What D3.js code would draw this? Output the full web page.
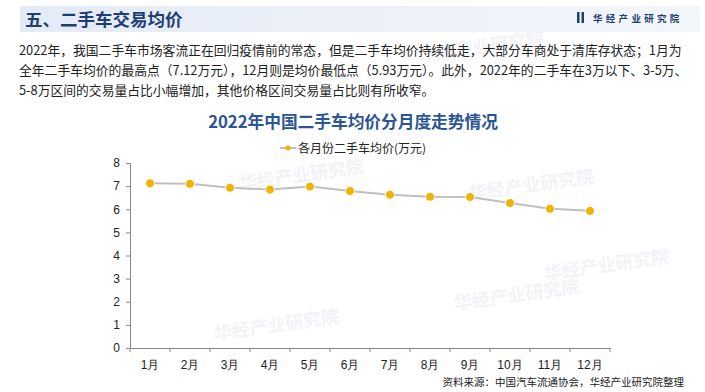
<!DOCTYPE html>
<html>
<head>
<meta charset="utf-8">
<script src="https://cdn.jsdelivr.net/npm/d3@7"></script>
<style>
  body { margin: 0; background: #fff; }
  svg { display: block; font-family: "Noto Sans CJK SC", "Noto Sans", sans-serif; }
</style>
</head>
<body>
<svg width="705" height="392"></svg>
<script>
let months = ["1月", "2月", "3月", "4月", "5月", "6月", "7月", "8月", "9月", "10月", "11月", "12月"];
let prices = [7.12, 7.1, 6.93, 6.85, 6.98, 6.79, 6.63, 6.54, 6.53, 6.27, 6.02, 5.93];
let yTicks = [0, 1, 2, 3, 4, 5, 6, 7, 8];
let paragraph = [
    "2022年，我国二手车市场客流正在回归疫情前的常态，但是二手车均价持续低走，大部分车商处于清库存状态；1月为",
    "全年二手车均价的最高点（7.12万元），12月则是均价最低点（5.93万元）。此外，2022年的二手车在3万以下、3-5万、",
    "5-8万区间的交易量占比小幅增加，其他价格区间交易量占比则有所收窄。"
];

let svg = d3.select("svg");

// faint watermarks
let wm = [[420, 62], [240, 190], [470, 200], [545, 280], [215, 340], [455, 310]];
svg.append("g").selectAll("text")
    .data(wm)
    .enter()
    .append("text")
    .attr("transform", (d) => `translate(${d[0]},${d[1]}) rotate(-8)`)
    .attr("font-size", 18).attr("font-weight", "bold").attr("fill", "#f1f3f7")
    .text("华经产业研究院");

// header band
let grad = svg.append("defs").append("linearGradient").attr("id", "hdr");
grad.append("stop").attr("offset", "0%").attr("stop-color", "#e4ebf6");
grad.append("stop").attr("offset", "100%").attr("stop-color", "#f3f6fb");
svg.append("rect").attr("x", 20).attr("y", 6).attr("width", 680).attr("height", 26).attr("fill", "url(#hdr)");
svg.append("text").attr("x", 25).attr("y", 25.5)
    .attr("font-size", 17.5).attr("font-weight", "bold").attr("fill", "#1f3f73")
    .text("五、二手车交易均价");

// logo
svg.append("rect").attr("x", 577).attr("y", 12).attr("width", 2.5).attr("height", 11).attr("fill", "#1f3f73");
svg.append("rect").attr("x", 581.5).attr("y", 12).attr("width", 2.5).attr("height", 11).attr("fill", "#1f3f73");
svg.append("text").attr("x", 593).attr("y", 21.5)
    .attr("font-size", 9.5).attr("font-weight", "bold").attr("fill", "#1f3f73")
    .attr("letter-spacing", 3.3)
    .text("华经产业研究院");

// paragraph
svg.append("g").selectAll("text")
    .data(paragraph)
    .enter()
    .append("text")
    .attr("x", 19)
    .attr("y", (d, i) => 55 + i * 20)
    .attr("font-size", 12.8)
    .attr("fill", "#222")
    .text((d) => d);

// chart title
svg.append("text").attr("x", 353).attr("y", 128).attr("text-anchor", "middle")
    .attr("font-size", 16.7).attr("font-weight", "bold").attr("fill", "#2a5596")
    .text("2022年中国二手车均价分月度走势情况");

// legend
let lg = svg.append("g");
lg.append("line").attr("x1", 280).attr("x2", 296).attr("y1", 148).attr("y2", 148)
    .attr("stroke", "#bfbfbf").attr("stroke-width", 2);
lg.append("circle").attr("cx", 288).attr("cy", 148).attr("r", 2.5).attr("fill", "#f0b400");
lg.append("text").attr("x", 298).attr("y", 152.5).attr("font-size", 12).attr("fill", "#222")
    .text("各月份二手车均价(万元)");

// scales
let x = d3.scaleBand().domain(months).range([130, 610]);
let y = d3.scaleLinear().domain([0, 8]).range([348, 163]);

// y axis
let yAxis = svg.append("g")
    .attr("transform", "translate(130,0)")
    .call(d3.axisLeft(y).tickValues(yTicks).tickSize(4).tickPadding(6));
yAxis.select(".domain").attr("stroke", "#888");
yAxis.selectAll(".tick line").attr("stroke", "#888");
yAxis.selectAll("text").attr("font-size", 12).attr("fill", "#222")
    .attr("font-family", "Liberation Sans, Arial, sans-serif");

// x axis with ticks at band edges
let xAxis = svg.append("g")
    .attr("transform", "translate(0,348)")
    .call(d3.axisBottom(x).tickSize(0).tickPadding(12));
xAxis.select(".domain").attr("stroke", "#888");
xAxis.selectAll("text").attr("font-size", 12).attr("fill", "#222");
xAxis.selectAll(".edge")
    .data(months.map((m) => x(m)).concat([x.range()[1]]))
    .enter()
    .append("line")
    .attr("class", "edge")
    .attr("x1", (d) => d).attr("x2", (d) => d)
    .attr("y1", 0).attr("y2", 4)
    .attr("stroke", "#888");

// line
let line = d3.line()
    .x((d, i) => x(months[i]) + x.bandwidth() / 2)
    .y((d) => y(d));
svg.append("path")
    .datum(prices)
    .attr("fill", "none")
    .attr("stroke", "#bfbfbf")
    .attr("stroke-width", 2)
    .attr("d", line);

svg.append("g").selectAll("circle")
    .data(prices)
    .enter()
    .append("circle")
    .attr("cx", (d, i) => x(months[i]) + x.bandwidth() / 2)
    .attr("cy", (d) => y(d))
    .attr("r", 4.5)
    .attr("fill", "#f0b400")
    .attr("stroke", "#fff")
    .attr("stroke-width", 1);

// source note
svg.append("text").attr("x", 684).attr("y", 386).attr("text-anchor", "end")
    .attr("font-size", 10.5).attr("fill", "#222")
    .text("资料来源：中国汽车流通协会，华经产业研究院整理");
</script>
</body>
</html>
